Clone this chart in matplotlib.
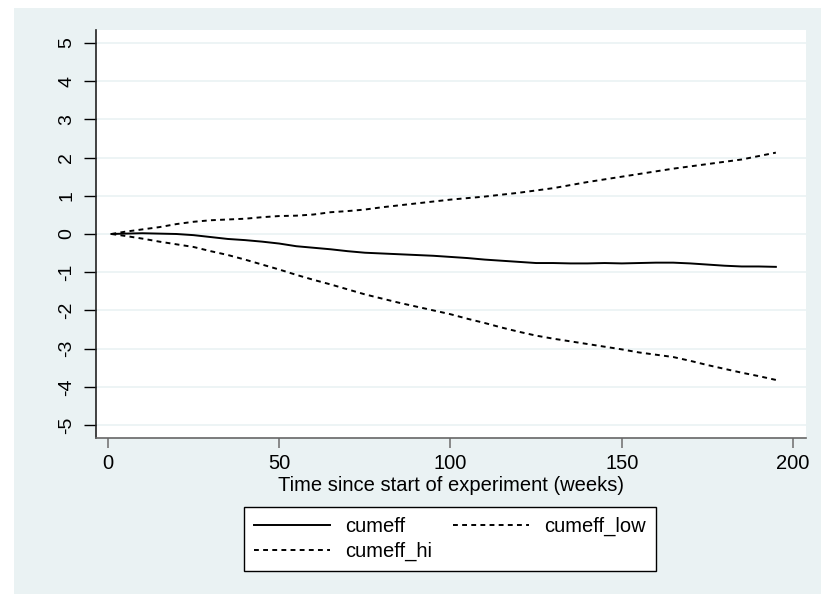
import matplotlib
matplotlib.use("Agg")
import matplotlib.pyplot as plt
from matplotlib.patches import Rectangle

plt.rcParams['font.family'] = ['Liberation Sans', 'DejaVu Sans']

weeks = [1, 5, 10, 15, 20, 25, 30, 35, 40, 45, 50, 55, 60, 65, 70, 75, 80, 85, 90, 95,
         100, 105, 110, 115, 120, 125, 130, 135, 140, 145, 150, 155, 160, 165, 170, 175,
         180, 185, 190, 195]
cumeff = [0, 0.01, 0.02, 0.01, 0.0, -0.03, -0.08, -0.13, -0.16, -0.2, -0.25, -0.32, -0.36,
          -0.4, -0.45, -0.49, -0.51, -0.53, -0.55, -0.57, -0.6, -0.63, -0.67, -0.7, -0.73,
          -0.76, -0.76, -0.77, -0.77, -0.76, -0.77, -0.76, -0.75, -0.75, -0.77, -0.8, -0.83,
          -0.85, -0.85, -0.86]
cumeff_hi = [0, 0.06, 0.12, 0.18, 0.26, 0.32, 0.36, 0.38, 0.4, 0.44, 0.47, 0.48, 0.51, 0.57,
             0.6, 0.64, 0.7, 0.75, 0.8, 0.85, 0.9, 0.94, 0.98, 1.03, 1.08, 1.14, 1.2, 1.28,
             1.36, 1.43, 1.5, 1.57, 1.64, 1.71, 1.77, 1.83, 1.89, 1.95, 2.04, 2.13]
cumeff_low = [0, -0.05, -0.12, -0.2, -0.27, -0.34, -0.45, -0.55, -0.67, -0.8, -0.93, -1.07,
              -1.2, -1.32, -1.45, -1.58, -1.69, -1.8, -1.9, -2.0, -2.1, -2.22, -2.33, -2.45,
              -2.56, -2.66, -2.74, -2.81, -2.88, -2.95, -3.02, -3.1, -3.16, -3.22, -3.32,
              -3.43, -3.53, -3.63, -3.72, -3.82]
xticks = [0, 50, 100, 150, 200]
yticks = [-5, -4, -3, -2, -1, 0, 1, 2, 3, 4, 5]
xlabel = "Time since start of experiment (weeks)"

W, H = 821, 594
fig = plt.figure(figsize=(W / 100, H / 100), dpi=100, facecolor='white')
bg = '#EAF2F3'
fig.patches.append(Rectangle((14 / W, 0), 1, 1 - 8 / H, transform=fig.transFigure,
                             facecolor=bg, edgecolor='none', zorder=-10))

ax = fig.add_axes([96 / W, 1 - 438 / H, (806 - 96) / W, (438 - 30) / H])
ax.set_zorder(1)
ax.set_facecolor('white')
ax.set_xlim(-3.5, 203.8)
ax.set_ylim(-5.34, 5.34)

for v in yticks:
    ax.axhline(v, color=bg, lw=1.2, zorder=1)

fs = 14.5
dash = (2.5, 2.2)
l1, = ax.plot(weeks, cumeff, color='black', lw=1.4, solid_joinstyle='round', zorder=3)
l3, = ax.plot(weeks, cumeff_low, color='black', lw=1.4, dashes=dash, zorder=3)
l2, = ax.plot(weeks, cumeff_hi, color='black', lw=1.4, dashes=dash, zorder=3)

ax.set_xticks(xticks)
ax.set_yticks(yticks)
ax.set_yticklabels([str(v) for v in yticks], rotation=90, va='center')
ax.tick_params(axis='y', length=9, width=1, color='black', pad=6, labelsize=14)
ax.tick_params(axis='x', length=7, width=1.2, color='#777777', pad=4.5, labelsize=fs)

for s in ['top', 'right']:
    ax.spines[s].set_visible(False)
ax.spines['left'].set_color('#222222')
ax.spines['left'].set_linewidth(1.2)
ax.spines['bottom'].set_color('#666666')
ax.spines['bottom'].set_linewidth(1.2)

ax.set_xlabel(xlabel, fontsize=fs, labelpad=2.5)

leg = fig.legend([l1, l2, l3], ['cumeff', 'cumeff_hi', 'cumeff_low'], ncol=2,
                 loc='center', bbox_to_anchor=(450 / W, 1 - 539 / H),
                 fontsize=fs, frameon=True, fancybox=False, edgecolor='black',
                 handlelength=3.75, handletextpad=0.75, columnspacing=1.05,
                 labelspacing=0.3, borderpad=0.5, framealpha=1)
leg.get_frame().set_linewidth(1.0)
leg.get_frame().set_facecolor('white')
leg.set_zorder(5)

fig.savefig('out.png', dpi=100, facecolor='white')
